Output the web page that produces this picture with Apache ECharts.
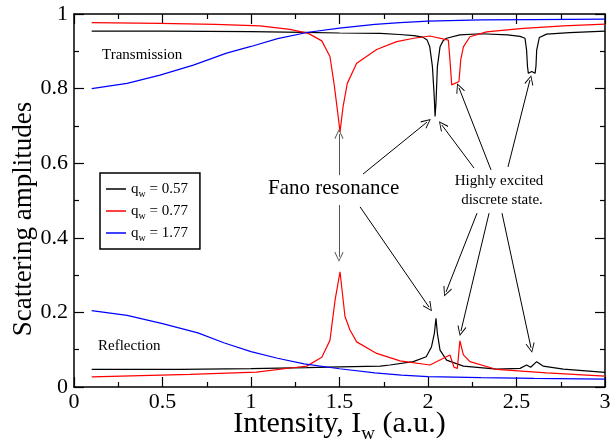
<!DOCTYPE html>
<html>
<head>
<meta charset="utf-8">
<script src="https://cdn.jsdelivr.net/npm/echarts@6/dist/echarts.min.js"></script>
<style>html,body{margin:0;padding:0;background:#fff}#c{width:611px;height:445px}</style>
</head>
<body>
<div id="c"></div>
<script>
// ---- data ----
const qNames = ['0.57', '0.77', '1.77'];
const xTicks = [0, 0.5, 1, 1.5, 2, 2.5, 3];
const yTicks = [0, 0.2, 0.4, 0.6, 0.8, 1];

// transmission
const T057 = [[0.1,0.954],[0.5,0.954],[1.0,0.953],[1.3,0.951],[1.5,0.949],[1.73,0.948],[1.84,0.945],[1.92,0.942],[1.97,0.938],[1.995,0.930],[2.01,0.912],[2.025,0.859],[2.035,0.78],[2.04,0.725],[2.045,0.76],[2.053,0.859],[2.068,0.912],[2.085,0.928],[2.105,0.935],[2.18,0.944],[2.3,0.947],[2.45,0.944],[2.52,0.940],[2.548,0.935],[2.557,0.903],[2.562,0.86],[2.567,0.841],[2.586,0.846],[2.605,0.841],[2.61,0.86],[2.614,0.903],[2.629,0.937],[2.67,0.946],[2.8,0.950],[3.0,0.954]];
const T077 = [[0.1,0.977],[0.486,0.975],[0.8,0.972],[1.05,0.968],[1.22,0.959],[1.324,0.948],[1.40,0.928],[1.446,0.886],[1.469,0.814],[1.488,0.743],[1.503,0.684],[1.52,0.751],[1.544,0.814],[1.597,0.868],[1.71,0.905],[1.823,0.926],[1.92,0.935],[2.011,0.941],[2.115,0.930],[2.124,0.877],[2.134,0.810],[2.175,0.819],[2.185,0.877],[2.2,0.912],[2.237,0.939],[2.331,0.952],[2.52,0.961],[2.765,0.968],[3.0,0.973]];
const T177 = [[0.1,0.800],[0.3,0.814],[0.486,0.836],[0.674,0.863],[0.862,0.895],[1.0,0.913],[1.15,0.934],[1.324,0.951],[1.5,0.962],[1.7,0.972],[1.842,0.977],[2.0,0.981],[2.3,0.984],[2.6,0.985],[3.0,0.986]];
// reflection
const R057 = [[0.1,0.047],[0.6,0.047],[1.0,0.049],[1.315,0.052],[1.5,0.054],[1.73,0.056],[1.785,0.059],[1.917,0.068],[1.99,0.081],[2.02,0.108],[2.036,0.144],[2.045,0.184],[2.053,0.144],[2.068,0.099],[2.105,0.072],[2.2,0.056],[2.388,0.048],[2.52,0.050],[2.557,0.059],[2.58,0.053],[2.614,0.068],[2.65,0.056],[2.765,0.048],[3.0,0.039]];
const R077 = [[0.1,0.027],[0.655,0.034],[1.03,0.040],[1.258,0.053],[1.315,0.056],[1.40,0.080],[1.446,0.125],[1.475,0.233],[1.503,0.309],[1.531,0.189],[1.559,0.153],[1.597,0.121],[1.71,0.090],[1.842,0.070],[2.011,0.059],[2.124,0.086],[2.147,0.053],[2.166,0.050],[2.18,0.124],[2.2,0.086],[2.237,0.068],[2.388,0.047],[2.67,0.038],[3.0,0.029]];
const R177 = [[0.1,0.205],[0.3,0.192],[0.5,0.170],[0.7,0.145],[0.85,0.118],[1.0,0.095],[1.15,0.077],[1.3,0.062],[1.5,0.049],[1.7,0.038],[1.85,0.032],[2.0,0.028],[2.3,0.025],[2.6,0.023],[3.0,0.021]];

// annotation arrows [from, to] in data units
const arrowsGray = [
  [[1.497,0.568],[1.497,0.678]],
  [[1.497,0.488],[1.497,0.349]]
];
const arrowsBlack = [
  [[1.633,0.571],[1.994,0.710]],
  [[1.616,0.483],[2.006,0.214]],
  [[2.260,0.587],[2.079,0.702]],
  [[2.356,0.582],[2.175,0.802]],
  [[2.452,0.590],[2.576,0.823]],
  [[2.277,0.466],[2.102,0.255]],
  [[2.345,0.466],[2.186,0.150]],
  [[2.418,0.466],[2.582,0.105]]
];

// ---- chart ----
const FONT = 'Liberation Serif';
const colors = {'0.57':'#000000','0.77':'#ff0000','1.77':'#0000ff'};
const arrowHead = 'path://M0,0 L6,10 L5,10.8 L0,2 L-5,10.8 L-6,10 Z';

function mkArrows(list, color) {
  return {
    silent: true, animation: false,
    symbol: ['none', arrowHead], symbolSize: [9, 10],
    label: {show: false},
    lineStyle: {color: color, width: 1, type: 'solid'},
    emphasis: {disabled: true},
    data: list.map(a => [{coord: a[0]}, {coord: a[1]}])
  };
}

function lineSeries(name, data, extra) {
  return Object.assign({
    name: name, type: 'line', data: data, symbol: 'none', smooth: false,
    lineStyle: {width: 1.2, color: colors[name]}, itemStyle: {color: colors[name]},
    animation: false, z: 3
  }, extra || {});
}

function mkAxis(ticks, position, showLabel, extra) {
  return Object.assign({
    type: 'value', position: position,
    min: ticks[0], max: ticks[ticks.length - 1], interval: ticks[1] - ticks[0],
    axisLine: {show: true, onZero: false, lineStyle: {color: '#000', width: 1.5}},
    axisTick: {show: true, inside: true, length: 10, lineStyle: {color: '#000', width: 1.2}},
    minorTick: {show: true, splitNumber: 2, length: 5, lineStyle: {color: '#000', width: 1.2}},
    splitLine: {show: false},
    minorSplitLine: {show: false},
    axisLabel: showLabel
      ? {show: true, margin: position === 'bottom' ? 4 : 6, fontFamily: FONT, fontSize: 22, color: '#000'}
      : {show: false}
  }, extra || {});
}

const chart = echarts.init(document.getElementById('c'), null, {renderer: 'canvas'});
const subRich = {
  a: {fontFamily: FONT, fontSize: 15, color: '#000', lineHeight: 18},
  s: {fontFamily: FONT, fontSize: 10, color: '#000', padding: [10, 0, 0, 0], lineHeight: 18}
};
chart.setOption({
  backgroundColor: '#fff',
  animation: false,
  grid: {left: 74, right: 6, top: 14, bottom: 58, containLabel: false, outerBoundsMode: 'none'},
  legend: {
    data: qNames, orient: 'vertical', left: 100, top: 173,
    icon: 'rect', itemWidth: 20, itemHeight: 1.5, itemGap: 2,
    padding: [6, 12, 6, 6],
    borderColor: '#000', borderWidth: 1.5, backgroundColor: '#fff',
    selectedMode: false,
    formatter: n => '{a|q}{s|w}{a| = ' + n + '}',
    textStyle: {rich: subRich}
  },
  xAxis: [
    mkAxis(xTicks, 'bottom', true, {
      name: '{a|Intensity, I}{s|w}{a| (a.u.)}', nameLocation: 'middle', nameGap: 20,
      nameMoveOverlap: false,
      nameTextStyle: {rich: {
        a: {fontFamily: FONT, fontSize: 30, color: '#000', lineHeight: 34},
        s: {fontFamily: FONT, fontSize: 19, color: '#000', padding: [20, 0, 0, 0], lineHeight: 34}
      }}
    }),
    mkAxis(xTicks, 'top', false)
  ],
  yAxis: [
    mkAxis(yTicks, 'left', true),
    mkAxis(yTicks, 'right', false)
  ],
  series: [
    lineSeries('0.57', T057, {markLine: mkArrows(arrowsBlack, '#000')}),
    lineSeries('0.57', R057),
    lineSeries('0.77', T077, {markLine: mkArrows(arrowsGray, '#555')}),
    lineSeries('0.77', R077),
    lineSeries('1.77', T177),
    lineSeries('1.77', R177)
  ],
  graphic: [
    {type: 'text', left: 102, top: 48, style: {text: 'Transmission', font: '15px "Liberation Serif"', fill: '#000'}},
    {type: 'text', left: 98, top: 339, style: {text: 'Reflection', font: '15px "Liberation Serif"', fill: '#000'}},
    {type: 'text', left: 268, top: 178, style: {text: 'Fano resonance', font: '21px "Liberation Serif"', fill: '#000'}},
    {type: 'text', x: 499, y: 181, style: {text: 'Highly excited', font: '15px "Liberation Serif"', fill: '#000', align: 'center', verticalAlign: 'middle'}},
    {type: 'text', x: 502, y: 200, style: {text: 'discrete state.', font: '15px "Liberation Serif"', fill: '#000', align: 'center', verticalAlign: 'middle'}},
    {type: 'text', x: 24, y: 219, rotation: Math.PI / 2, style: {text: 'Scattering amplitudes', font: '27px "Liberation Serif"', fill: '#000', align: 'center', verticalAlign: 'middle'}}
  ]
});
</script>
</body>
</html>
